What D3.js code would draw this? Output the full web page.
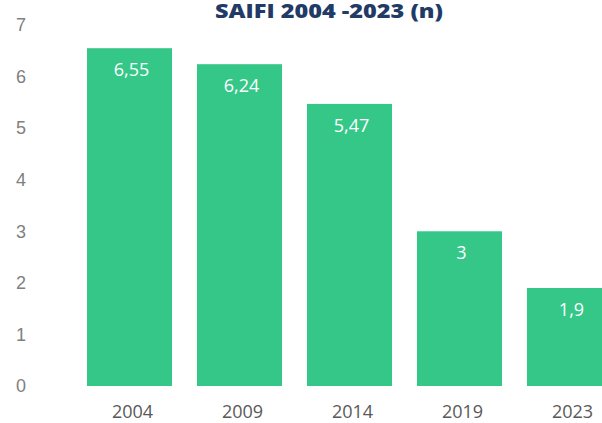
<!DOCTYPE html>
<html>
<head>
<meta charset="utf-8">
<script src="https://cdn.jsdelivr.net/npm/d3@7"></script>
<style>
  body { margin: 0; background: #fff; overflow: hidden; }
  #chart { width: 602px; height: 423px; }
</style>
</head>
<body>
<div id="chart"></div>
<script>
const years = ["2004", "2009", "2014", "2019", "2023"];
const saifi = [6.55, 6.24, 5.47, 3, 1.9];
const yTicks = [0, 1, 2, 3, 4, 5, 6, 7];

const width = 602, height = 423;

const svg = d3.select("#chart")
    .append("svg")
    .attr("width", width)
    .attr("height", height);

// plot area runs past the right edge, like the original
const x = d3.scaleBand()
    .domain(years)
    .range([76, 623])
    .paddingInner(0.227)
    .paddingOuter(0.1);

const y = d3.scaleLinear()
    .domain([0, 7])
    .range([386, 25]);

// y axis labels
svg.append("g")
    .selectAll("text")
    .data(yTicks)
    .enter()
    .append("text")
    .attr("x", 26)
    .attr("y", d => y(d))
    .attr("dy", "0.35em")
    .attr("text-anchor", "end")
    .style("font-family", "'Liberation Sans', Arial, sans-serif")
    .style("font-size", "18px")
    .style("fill", "#808080")
    .text(d => d);

// bars
svg.selectAll(".bar")
    .data(saifi)
    .enter()
    .append("rect")
    .attr("class", "bar")
    .attr("x", (d, i) => x(years[i]))
    .attr("y", d => y(d))
    .attr("width", x.bandwidth())
    .attr("height", d => y(0) - y(d))
    .attr("fill", "#34c788");

// value labels inside bars
svg.selectAll(".val")
    .data(saifi)
    .enter()
    .append("text")
    .attr("class", "val")
    .attr("x", (d, i) => x(years[i]) + x.bandwidth() / 2 + 2)
    .attr("y", d => y(d) + 28)
    .attr("text-anchor", "middle")
    .style("font-family", "'Open Sans', sans-serif")
    .style("font-size", "18px")
    .style("fill", "#ffffff")
    .text(d => String(d).replace(".", ","));

// x labels
svg.append("g")
    .selectAll("text")
    .data(years)
    .enter()
    .append("text")
    .attr("x", d => x(d) + x.bandwidth() / 2 + 3)
    .attr("y", 418)
    .attr("text-anchor", "middle")
    .style("font-family", "'Open Sans', sans-serif")
    .style("font-size", "18px")
    .style("fill", "#595959")
    .text(d => d);

// title
svg.append("text")
    .attr("x", 329)
    .attr("y", 18)
    .attr("text-anchor", "middle")
    .attr("textLength", 228)
    .attr("lengthAdjust", "spacingAndGlyphs")
    .style("font-family", "'Open Sans', sans-serif")
    .style("font-weight", "800")
    .style("font-size", "19px")
    .style("fill", "#213a66")
    .text("SAIFI 2004 -2023 (n)");
</script>
</body>
</html>
